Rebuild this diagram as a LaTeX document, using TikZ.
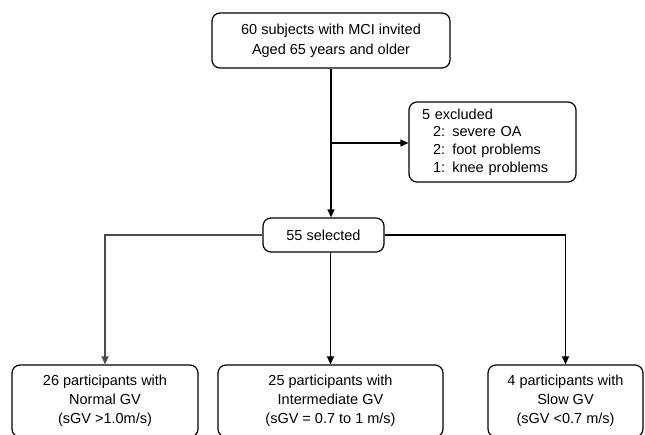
\documentclass[tikz,border=0pt]{standalone}
\usepackage{fontspec}
\setmainfont{Liberation Sans}
\usetikzlibrary{arrows.meta}
\begin{document}
\begin{tikzpicture}[x=1pt,y=1pt,
  box/.style={draw, line width=1.2pt, rounded corners=8pt, align=center, inner sep=0pt},
  conn/.style={line width=1.2pt},
  arr/.style={conn, -{Triangle[length=8pt,width=7pt]}}]
\clip (0,0) rectangle (645,-434);
\fill[white] (0,0) rectangle (645,-434);
\node[box, minimum width=238pt, minimum height=55pt, font=\fontsize{14.5}{20}\selectfont]
  (top) at (331,-40.5) {60 subjects with MCI invited\\Aged 65 years and older};
\node[box, text width=141pt, inner xsep=13pt, minimum height=80pt, align=left,
  font=\fontsize{14.5}{17.7}\selectfont]
  (excl) at (492.5,-142) {5 excluded\\\hspace*{11pt}2: severe OA\\\hspace*{11pt}2: foot problems\\\hspace*{11pt}1: knee problems};
\node[box, minimum width=121pt, minimum height=34pt, font=\fontsize{14.5}{18}\selectfont]
  (sel) at (323.5,-235) {55 selected};
\node[box, minimum width=186pt, minimum height=72pt, font=\fontsize{14.5}{19}\selectfont]
  (b1) at (105,-401) {26 participants with\\Normal GV\\(sGV >1.0m/s)};
\node[box, minimum width=225pt, minimum height=72pt, font=\fontsize{14.5}{19}\selectfont]
  (b2) at (330.5,-401) {25 participants with\\Intermediate GV\\(sGV = 0.7 to 1 m/s)};
\node[box, minimum width=155pt, minimum height=72pt, font=\fontsize{14.5}{19}\selectfont]
  (b3) at (565.5,-401) {4 participants with\\Slow GV\\(sGV <0.7 m/s)};
\coordinate (j) at (331,-143);
\draw[arr] (top.south) -- (top.south |- sel.north);
\draw[arr] (j) -- (excl.west |- j);
\draw[arr, draw=black!70] (sel.west) -| (b1.north);
\draw[arr] (sel.east) -| (b3.north);
\draw[arr] (b2.north |- sel.south) -- (b2.north);
\end{tikzpicture}
\end{document}
